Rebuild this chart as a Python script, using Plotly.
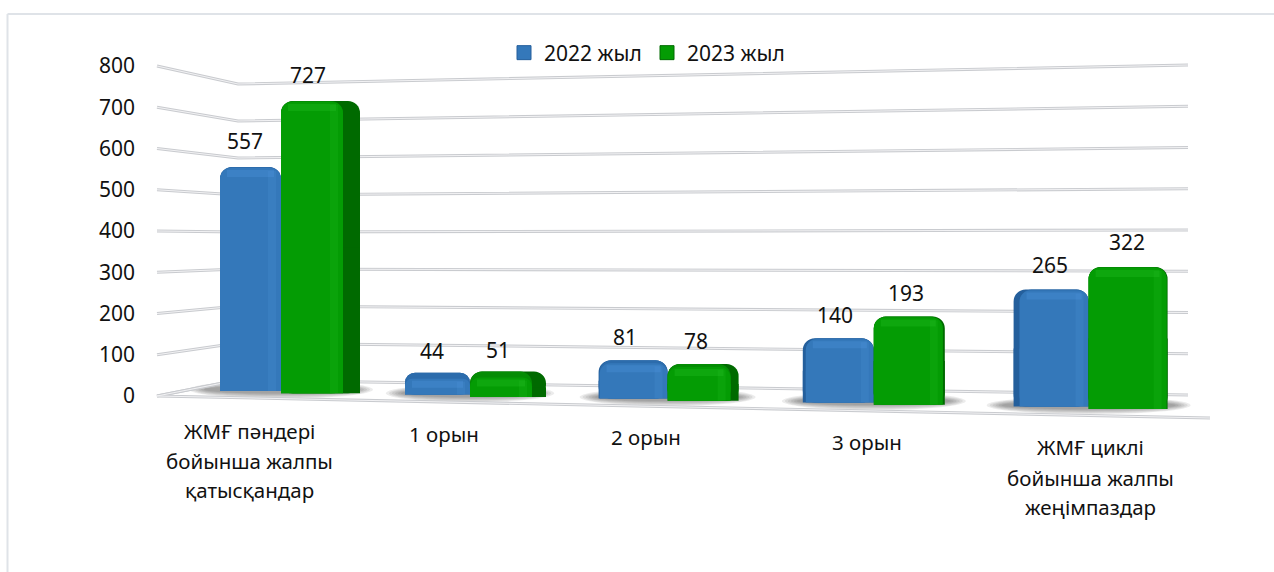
import plotly.graph_objects as go

# data
categories = ["ЖМҒ пәндері<br>бойынша жалпы<br>қатысқандар", "1 орын", "2 орын", "3 орын",
              "ЖМҒ циклі<br>бойынша жалпы<br>жеңімпаздар"]
values_2022 = [557, 44, 81, 140, 265]
values_2023 = [727, 51, 78, 193, 322]
y_ticks = [0, 100, 200, 300, 400, 500, 600, 700, 800]

# the x axis runs in page pixels, the y axis in chart units with 0 on the left wall at page row 396
WIDTH, HEIGHT = 1274, 572
LEFT = 143
PX_PER_UNIT = 0.4125
Y0_ROW = 396
FONT = "Noto Sans"
TEXT_SIZE = 21
LABEL_SIZE = 20.5

# perspective of the fake 3d scene
group_x = [281 + 189 * i + 4.3 * i * (i - 1) for i in range(5)]
depth_scale = [0.975, 1.21, 1.14, 1.11, 1.07]
label_rows = [[431, 461, 490], [434], [437], [442], [447, 478, 507]]
label_x = [249, 444, 646, 867, 1090]
value_gap = [26, 22, 23, 23, 25]
shadow_half = [92, 84, 88, 92, 102]


def row_to_y(row):
    return (Y0_ROW - row) / PX_PER_UNIT


def col_to_paper(col):
    return (col - LEFT) / (WIDTH - LEFT)


def floor_row(x):
    return 391 + (x - 251) * 0.0194


def add_layer(fig, x, height, base, width, color, radius=0, opacity=1):
    fig.add_trace(go.Bar(x=x, y=height, base=base, width=width, showlegend=False, hoverinfo="skip",
                         marker=dict(color=color, cornerradius=radius, opacity=opacity, line_width=0)))


def add_series(fig, name, values, span, side_l, side_r, top_depth, colors, shift):
    sign = -1 if name.startswith("2022") else 1
    left = [c - s if sign < 0 else c for c, s in zip(group_x, span)]
    right = [c if sign < 0 else c + s for c, s in zip(group_x, span)]
    centers = [(a + b) / 2 for a, b in zip(left, right)]
    widths = [b - a for a, b in zip(left, right)]
    base = [row_to_y(floor_row(c) + (0 if sign < 0 else 1)) for c in centers]
    height = [v * k for v, k in zip(values, depth_scale)]
    tops = [b + h for b, h in zip(base, height)]
    px = 1 / PX_PER_UNIT

    f_left = [a + s for a, s in zip(left, side_l)]
    f_right = [b - s for b, s in zip(right, side_r)]
    f_mid = [(a + b) / 2 for a, b in zip(f_left, f_right)]
    f_width = [b - a for a, b in zip(f_left, f_right)]
    f_top = [t - d * px for t, d in zip(tops, top_depth)]
    f_height = [t - b for t, b in zip(f_top, base)]
    # plotly rounds both ends of a bar that has a base, these square the foot off again
    foot = [h / 2 for h in f_height]

    # side faces
    add_layer(fig, centers, height, base, widths, colors["dark"], radius=12)
    add_layer(fig, centers, foot, base, widths, colors["dark"])

    # top face
    add_layer(fig, f_mid, height, base, f_width, colors["top"], radius=12)

    # front face
    add_layer(fig, f_mid, f_height, base, f_width, colors["main"], radius=11)
    add_layer(fig, f_mid, foot, base, f_width, colors["main"])

    # soft light band along the bevel at the top of the front face
    add_layer(fig, f_mid, [7 * px] * 5, [t - 9 * px for t in f_top], [w - 14 for w in f_width],
              colors["light"], opacity=0.22)

    # faint light strip down the right of the front face
    add_layer(fig, [b - 9 for b in f_right], [h - 3 * px for h in f_height], base, [8] * 5,
              colors["light"], opacity=0.14)

    # legend entry only, the bars above have rounded corners that would show in the key
    fig.add_trace(go.Scatter(x=[None], y=[None], mode="markers", name=name, hoverinfo="skip",
                             marker=dict(symbol="square", size=14, color=colors["main"],
                                         line=dict(color=colors["dark"], width=1))))

    for i, v in enumerate(values):
        fig.add_annotation(x=centers[i] + shift[i], y=tops[i], yshift=value_gap[i], text=str(v), showarrow=False,
                           font=dict(family=FONT, size=TEXT_SIZE, color="#111111"))


def wall_line(v, color, width):
    # left wall, corner, back wall
    path = f"M157,{v} L238,{38.8 + 0.897 * v} L1188,{2.4 + v}"
    return dict(type="path", path=path, xref="x", yref="y", layer="below", line=dict(color=color, width=width))


def shadow_shapes():
    shapes = []
    for i, half in enumerate(shadow_half):
        cy = row_to_y(floor_row(group_x[i]) - 2)
        for grow in range(6):
            shapes.append(dict(type="circle", xref="x", yref="y", layer="below",
                               x0=group_x[i] - half + grow * 3, x1=group_x[i] + half - grow * 3,
                               y0=cy - (9 - grow) / PX_PER_UNIT, y1=cy + (9 - grow) / PX_PER_UNIT,
                               fillcolor="rgba(40,40,40,0.09)", line_width=0))
    return shapes


fig = go.Figure()
add_series(fig, "2022 жыл", values_2022, span=[61, 65, 69, 71, 75],
           side_l=[0, 0, 1, 3, 6], side_r=[0, 0, 0, 0, 0], top_depth=[1, 6, 3, 1, 1],
           colors=dict(main="#3478BA", dark="#245F9C", top="#2C6CAC", light="#5CA6EC"),
           shift=[-6, -6, -8, -3, -1])
add_series(fig, "2023 жыл", values_2023, span=[79, 76, 71, 71, 79],
           side_l=[0, 0, 0, 0, 0], side_r=[17, 14, 8, 2, 1], top_depth=[1, 6, 3, 1, 1],
           colors=dict(main="#049C04", dark="#006A00", top="#048C04", light="#30D030"),
           shift=[-13, -10, -7, -3, -1])

shapes = shadow_shapes()
for tick in y_ticks:
    shapes.append(wall_line(tick, "#C9CBCF", 3))
    shapes.append(wall_line(tick, "#F2F2F4", 1))

# floor edges
for color, width in [("#C9CBCF", 3), ("#F2F2F4", 1)]:
    floor = f"M238,{row_to_y(380)} L157,{row_to_y(396)} L1210,{row_to_y(418)}"
    shapes.append(dict(type="path", path=floor, xref="x", yref="y", layer="below",
                       line=dict(color=color, width=width)))

# frame of the pasted picture
frame = dict(type="line", xref="paper", yref="paper", layer="below", line=dict(color="#DFE3E8", width=2))
shapes.append(dict(frame, x0=col_to_paper(7.5), x1=col_to_paper(7.5), y0=0, y1=1 - 14 / HEIGHT))
shapes.append(dict(frame, x0=col_to_paper(7.5), x1=1, y0=1 - 14 / HEIGHT, y1=1 - 14 / HEIGHT))

fig.update_layout(
    width=WIDTH, height=HEIGHT, autosize=False,
    margin=dict(l=LEFT, r=0, t=0, b=0),
    paper_bgcolor="white", plot_bgcolor="white",
    barmode="overlay",
    shapes=shapes,
    font=dict(family=FONT, size=TEXT_SIZE, color="#111111"),
    legend=dict(orientation="h", x=col_to_paper(504), y=1 - 53 / HEIGHT, xanchor="left", yanchor="middle",
                bgcolor="rgba(0,0,0,0)", itemclick=False, itemdoubleclick=False,
                font=dict(family=FONT, size=TEXT_SIZE), entrywidth=98, entrywidthmode="pixels"),
)
fig.update_xaxes(range=[LEFT, WIDTH], visible=False, fixedrange=True)
fig.update_yaxes(range=[row_to_y(HEIGHT), row_to_y(0)], tickmode="array", tickvals=y_ticks, showgrid=False,
                 zeroline=False, showline=False, ticks="", ticklabelstandoff=7, fixedrange=True,
                 tickfont=dict(family=FONT, size=TEXT_SIZE, color="#111111"))

# category labels, one annotation per line because the line pitch is wider than plotly's own
for text, lx, rows in zip(categories, label_x, label_rows):
    for line, row in zip(text.split("<br>"), rows):
        fig.add_annotation(x=lx, y=row_to_y(row), text=line, showarrow=False,
                           font=dict(family=FONT, size=LABEL_SIZE, color="#111111"))

fig.write_html("out.html", config=dict(displayModeBar=False),
               post_script="document.body.style.margin='0';")
